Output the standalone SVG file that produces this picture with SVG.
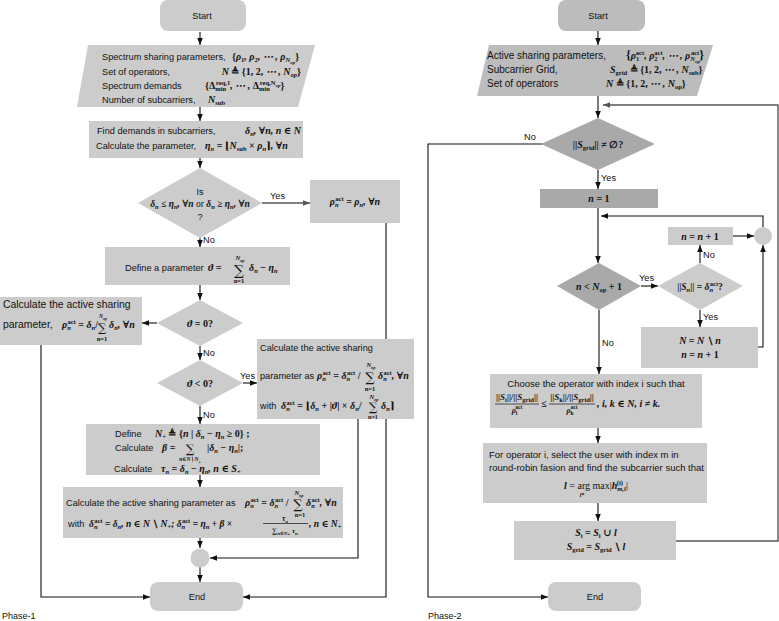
<svg xmlns="http://www.w3.org/2000/svg" width="779" height="621" viewBox="0 0 779 621">
<defs>
<marker id="ah" viewBox="0 0 10 10" refX="10" refY="5" markerWidth="7" markerHeight="7" markerUnits="userSpaceOnUse" orient="auto"><path d="M0,1 L10,5 L0,9 z" fill="#111"/></marker>
<marker id="ahg" viewBox="0 0 10 10" refX="10" refY="5" markerWidth="7" markerHeight="7" markerUnits="userSpaceOnUse" orient="auto"><path d="M0,1 L10,5 L0,9 z" fill="#555"/></marker>
</defs>
<style>
.t{font-family:"Liberation Sans",Arial,sans-serif;font-size:9.2px;fill:#111}
.c{text-anchor:middle}
.e{text-anchor:end}
.m{font-family:"Liberation Serif","DejaVu Serif",serif;font-style:italic;font-weight:bold;font-size:10px;fill:#111}
.u{font-style:normal}
.b{font-size:6.5px;baseline-shift:-2px}
.bb{font-size:5px;baseline-shift:-3.5px}
.p{font-size:6.5px;baseline-shift:4px}
.sm{font-family:"Liberation Serif","DejaVu Serif",serif;font-style:italic;font-weight:bold;font-size:6.5px;fill:#111;text-anchor:middle}
.S{font-family:"DejaVu Serif",serif;font-size:13px;fill:#111;text-anchor:middle}
.box{fill:#cccccc}
.dk{fill:#a9a9a9}
.md{fill:#bcbcbc}
.ln{fill:none;stroke:#111;stroke-width:1.1;marker-end:url(#ah)}
.lg{fill:none;stroke:#555;stroke-width:1.4;marker-end:url(#ahg)}
</style>

<g id="connectors">
<path class="ln" d="M200,32 V45"/>
<path class="ln" d="M200,107 V121"/>
<path class="ln" d="M200,158 V168"/>
<path class="lg" d="M262,203 H310"/>
<path class="ln" d="M386,223 V597 H243"/>
<path class="ln" d="M200,238 V247"/>
<path class="ln" d="M200,285 V300"/>
<path class="ln" d="M157,323 H142"/>
<path class="ln" d="M41,345 V597 H150"/>
<path class="ln" d="M200,346 V360"/>
<path class="ln" d="M243,383 H257"/>
<path class="ln" d="M358,419 V558 H210"/>
<path class="ln" d="M200,406 V424"/>
<path class="ln" d="M200,475 V487"/>
<path class="ln" d="M200,538 V548"/>
<path class="ln" d="M200,567 V582"/>
<path class="ln" d="M598,31 V45"/>
<path class="ln" d="M598,96 V118"/>
<path class="lg" d="M676,541 H778 V105 H603"/>
<path class="ln" d="M543,144 H428 V597 H548"/>
<path class="ln" d="M598,170 V189"/>
<path class="ln" d="M598,208 V263"/>
<path class="ln" d="M763,227 V216 H601"/>
<path class="ln" d="M733,236 H754"/>
<path class="ln" d="M641,286 H658"/>
<path class="ln" d="M700,263 V245"/>
<path class="ln" d="M700,310 V327"/>
<path class="ln" d="M758,347 H763 V245"/>
<path class="ln" d="M599,310 V374"/>
<path class="ln" d="M598,428 V443"/>
<path class="ln" d="M598,503 V521"/>
<text class="t" x="270" y="199">Yes</text>
<text class="t" x="203" y="243">No</text>
<text class="t" x="203" y="356">No</text>
<text class="t" x="240" y="379">Yes</text>
<text class="t" x="203" y="418">No</text>
<text class="t" x="524" y="140">No</text>
<text class="t" x="601" y="181">Yes</text>
<text class="t" x="639" y="281">Yes</text>
<text class="t" x="703" y="258">No</text>
<text class="t" x="703" y="320">Yes</text>
<text class="t" x="602" y="346">No</text>
</g>

<g id="start1"><rect class="box" x="160" y="0" width="86" height="31" rx="8"/><text class="t c" x="202" y="19">Start</text></g>

<g id="input1">
<polygon class="box" points="88,45 315,45 298,107 77,107"/>
<text class="t" x="102" y="60">Spectrum sharing parameters,</text>
<text class="m" x="232" y="60"><tspan class="u">{</tspan>ρ<tspan class="b u">1</tspan>, ρ<tspan class="b u">2</tspan>, ⋯ , ρ<tspan class="b">N</tspan><tspan class="bb">op</tspan><tspan class="u">}</tspan></text>
<text class="t" x="102" y="75">Set of operators,</text>
<text class="m e" x="301" y="75">N <tspan class="u">≜ {1, 2,</tspan> ⋯ , N<tspan class="b">op</tspan><tspan class="u">}</tspan></text>
<text class="t" x="102" y="89">Spectrum demands</text>
<text class="m" x="205" y="89"><tspan class="u">{Δ</tspan><tspan class="b u">min</tspan><tspan class="p u" dx="-10">req,1</tspan>, ⋯ , <tspan class="u">Δ</tspan><tspan class="b u">min</tspan><tspan class="p u" dx="-10">req,N</tspan><tspan class="bb" style="baseline-shift:2.5px">op</tspan><tspan class="u">}</tspan></text>
<text class="t" x="102" y="103">Number of subcarriers,</text>
<text class="m" x="208" y="103">N<tspan class="b u">sub</tspan></text>
</g>

<g id="demands">
<rect class="box" x="89" y="121" width="214" height="37"/>
<text class="t" x="97" y="134">Find demands in subcarriers,</text>
<text class="m e" x="301" y="134">δ<tspan class="b">n</tspan>, ∀n, n ∈ N</text>
<text class="t" x="96" y="149">Calculate the parameter,</text>
<text class="m" x="205" y="149">η<tspan class="b">n</tspan> <tspan class="u">= ⌊</tspan>N<tspan class="b u">sub</tspan> <tspan class="u">×</tspan> ρ<tspan class="b">n</tspan><tspan class="u">⌉</tspan>, ∀n</text>
</g>

<g id="dec1">
<polygon class="box" points="200,168 262,203 200,238 138,203"/>
<text class="t c" x="200" y="195">Is</text>
<text class="m c" x="200" y="207" style="font-size:9.5px">δ<tspan class="b">n</tspan> <tspan class="u">≤</tspan> η<tspan class="b">n</tspan>, ∀n <tspan class="u" style="font-weight:normal">or</tspan> δ<tspan class="b">n</tspan> <tspan class="u">≥</tspan> η<tspan class="b">n</tspan>, ∀n</text>
<text class="t c" x="200" y="220">?</text>
</g>

<g id="rhoeq">
<rect class="box" x="310" y="180" width="90" height="43"/>
<text class="m c" x="355" y="205">ρ<tspan class="b">n</tspan><tspan class="p u" dx="-3.3">act</tspan> <tspan class="u">=</tspan> ρ<tspan class="b">n</tspan>, ∀n</text>
</g>

<g id="define1">
<rect class="box" x="105" y="247" width="185" height="38"/>
<text class="t" x="125" y="271">Define a parameter</text>
<text class="m" x="208" y="271">ϑ <tspan class="u">=</tspan></text>
<text class="S" x="239" y="275" style="font-size:14px">∑</text>
<text class="sm" x="240" y="260">N<tspan style="font-size:4.5px" baseline-shift="-1.5">op</tspan></text>
<text class="sm" x="239" y="283"><tspan class="u">n=1</tspan></text>
<text class="m" x="249" y="271">δ<tspan class="b">n</tspan> <tspan class="u">−</tspan> η<tspan class="b">n</tspan></text>
</g>

<g id="dec2">
<polygon class="box" points="200,300 243,323 200,346 157,323"/>
<text class="m c" x="200" y="327">ϑ <tspan class="u">= 0?</tspan></text>
</g>

<g id="actleft">
<rect class="box" x="0" y="297" width="142" height="48"/>
<text class="t" x="3" y="307.5" style="font-size:10.4px">Calculate the active sharing</text>
<text class="t" x="3" y="328" style="font-size:10.4px">parameter,</text>
<text class="m" x="62" y="328">ρ<tspan class="b">n</tspan><tspan class="p u" dx="-3.3">act</tspan> <tspan class="u">=</tspan> δ<tspan class="b">n</tspan><tspan class="u">/</tspan></text>
<text class="S" x="102" y="332" style="font-size:11.5px">∑</text>
<text class="sm" x="103" y="318" style="font-size:5.5px">N<tspan style="font-size:4px" baseline-shift="-1.5">op</tspan></text>
<text class="sm" x="102" y="341"><tspan class="u">n=1</tspan></text>
<text class="m" x="109" y="328">δ<tspan class="b">n</tspan>, ∀n</text>
</g>

<g id="dec3">
<polygon class="box" points="200,360 243,383 200,406 157,383"/>
<text class="m c" x="200" y="387">ϑ <tspan class="u">&lt; 0?</tspan></text>
</g>

<g id="actneg">
<rect class="box" x="257" y="339" width="157" height="80"/>
<text class="t" x="260" y="351">Calculate the active sharing</text>
<text class="t" x="260" y="379">parameter as</text>
<text class="m" x="317" y="379">ρ<tspan class="b">n</tspan><tspan class="p u" dx="-3.3">act</tspan> <tspan class="u">=</tspan> δ<tspan class="b">n</tspan><tspan class="p u" dx="-3.3">act</tspan> <tspan class="u">/</tspan></text>
<text class="S" x="370" y="382">∑</text>
<text class="sm" x="371" y="367">N<tspan style="font-size:4.5px" baseline-shift="-1.5">op</tspan></text>
<text class="sm" x="370" y="391"><tspan class="u">n=1</tspan></text>
<text class="m" x="378" y="379">δ<tspan class="b">n</tspan><tspan class="p u" dx="-3.3">act</tspan>, ∀n</text>
<text class="t" x="260" y="409">with</text>
<text class="m" x="281" y="409">δ<tspan class="b">n</tspan><tspan class="p u" dx="-3.3">act</tspan> <tspan class="u">= ⌊</tspan>δ<tspan class="b">n</tspan> <tspan class="u">+ |</tspan>ϑ<tspan class="u">| ×</tspan> δ<tspan class="b">n</tspan><tspan class="u">/</tspan></text>
<text class="S" x="373" y="411" style="font-size:12px">∑</text>
<text class="sm" x="374" y="399">N<tspan style="font-size:4.5px" baseline-shift="-1.5">op</tspan></text>
<text class="sm" x="373" y="418.5" style="font-size:6px"><tspan class="u">n=1</tspan></text>
<text class="m" x="381" y="409">δ<tspan class="b">n</tspan><tspan class="u">⌉</tspan></text>
</g>

<g id="define2">
<rect class="box" x="86" y="424" width="234" height="51"/>
<text class="t" x="115" y="437">Define</text>
<text class="m" x="155" y="437">N<tspan class="b u">+</tspan> <tspan class="u">≜ {</tspan>n <tspan class="u">|</tspan> δ<tspan class="b">n</tspan> <tspan class="u">−</tspan> η<tspan class="b">n</tspan> <tspan class="u">≥ 0} ;</tspan></text>
<text class="t" x="115" y="451">Calculate</text>
<text class="m" x="162" y="451">β <tspan class="u">=</tspan></text>
<text class="S" x="190" y="453" style="font-size:12px">∑</text>
<text class="sm" x="190" y="460.5" style="font-size:5.5px">n∈N∖N<tspan style="font-size:4px" baseline-shift="-1.5">+</tspan></text>
<text class="m" x="207" y="451"><tspan class="u">|</tspan>δ<tspan class="b">n</tspan> <tspan class="u">−</tspan> η<tspan class="b">n</tspan><tspan class="u">|;</tspan></text>
<text class="t" x="114" y="472">Calculate</text>
<text class="m" x="161" y="472">τ<tspan class="b">n</tspan> <tspan class="u">=</tspan> δ<tspan class="b">n</tspan> <tspan class="u">−</tspan> η<tspan class="b">n</tspan>, n ∈ S<tspan class="b u">+</tspan></text>
</g>

<g id="actfinal">
<rect class="box" x="63" y="487" width="280" height="51"/>
<text class="t" x="66" y="506">Calculate the active sharing parameter as</text>
<text class="m" x="245" y="506">ρ<tspan class="b">n</tspan><tspan class="p u" dx="-3.3">act</tspan> <tspan class="u">=</tspan> δ<tspan class="b">n</tspan><tspan class="p u" dx="-3.3">act</tspan> <tspan class="u">/</tspan></text>
<text class="S" x="298" y="509">∑</text>
<text class="sm" x="299" y="495">N<tspan style="font-size:4.5px" baseline-shift="-1.5">op</tspan></text>
<text class="sm" x="300" y="517"><tspan class="u">n=1</tspan></text>
<text class="m" x="306" y="506">δ<tspan class="b">n</tspan><tspan class="p u" dx="-3.3">act</tspan>, ∀n</text>
<text class="t" x="68" y="527">with</text>
<text class="m" x="89" y="527" style="font-size:9.5px">δ<tspan class="b">n</tspan><tspan class="p u" dx="-3.3">act</tspan> <tspan class="u">=</tspan> δ<tspan class="b">n</tspan>, n ∈ N <tspan class="u">∖</tspan> N<tspan class="b u">+</tspan>; δ<tspan class="b">n</tspan><tspan class="p u" dx="-3.3">act</tspan> <tspan class="u">=</tspan> η<tspan class="b">n</tspan> <tspan class="u">+</tspan> β <tspan class="u">×</tspan></text>
<text class="sm" x="285" y="521" style="font-size:7.5px">τ<tspan style="font-size:5px" baseline-shift="-1.5">n</tspan></text>
<line x1="263" y1="523.5" x2="308" y2="523.5" stroke="#111" stroke-width="0.7"/>
<text class="sm" x="285" y="533" style="font-size:7px"><tspan class="u">∑</tspan><tspan style="font-size:5px" baseline-shift="-1.5">n∈N+</tspan> τ<tspan style="font-size:5px" baseline-shift="-1.5">n</tspan></text>
<text class="m" x="309" y="527" style="font-size:9.5px">, n ∈ N<tspan class="b u">+</tspan></text>
</g>

<g id="merge1"><circle class="box" cx="200" cy="558" r="9.5"/></g>

<g id="end1"><rect class="box" x="150" y="582" width="93" height="29" rx="8"/><text class="t c" x="197" y="600">End</text></g>
<text class="t" x="2" y="619" style="font-size:9px">Phase-1</text>

<g id="start2"><rect class="md" x="558" y="0" width="87" height="31" rx="8"/><text class="t c" x="598" y="19">Start</text></g>

<g id="input2">
<polygon class="md" points="489,45 713,45 697,96 477,96"/>
<text class="t" x="487" y="59" style="font-size:10px">Active sharing parameters,</text>
<text class="m" x="626" y="59"><tspan class="u" style="font-size:12px">{</tspan>ρ<tspan class="b u">1</tspan><tspan class="p u" dx="-3.3">act</tspan>, ρ<tspan class="b u">2</tspan><tspan class="p u" dx="-3.3">act</tspan>, ⋯ , ρ<tspan class="b">N</tspan><tspan class="bb">op</tspan><tspan class="p u" dx="-9">act</tspan><tspan class="u" style="font-size:12px">}</tspan></text>
<text class="t" x="487" y="73" style="font-size:10px">Subcarrier Grid,</text>
<text class="m" x="610" y="73">S<tspan class="b u">grid</tspan> <tspan class="u">≜ {1, 2,</tspan> ⋯ , N<tspan class="b u">sub</tspan><tspan class="u">}</tspan></text>
<text class="t" x="487" y="87" style="font-size:10px">Set of operators</text>
<text class="m" x="606" y="87">N <tspan class="u">≜ {1, 2,</tspan> ⋯ , N<tspan class="b u">op</tspan><tspan class="u">}</tspan></text>
</g>

<g id="gridcheck">
<polygon class="dk" points="598,118 655,144 598,170 541,144"/>
<text class="m c" x="598" y="148"><tspan class="u">||</tspan>S<tspan class="b u">grid</tspan><tspan class="u">|| ≠ ∅?</tspan></text>
</g>

<g id="n1"><rect class="dk" x="540" y="189" width="118" height="19"/><text class="m c" x="599" y="202">n <tspan class="u">= 1</tspan></text></g>

<g id="ninc"><rect class="box" x="668" y="227" width="65" height="18"/><text class="m c" x="700" y="240">n <tspan class="u">=</tspan> n <tspan class="u">+ 1</tspan></text></g>

<g id="merge2"><circle class="box" cx="763" cy="236" r="9"/></g>

<g id="ncheck">
<polygon class="dk" points="599,263 641,286 599,310 557,286"/>
<text class="m c" x="599" y="290">n <tspan class="u">&lt;</tspan> N<tspan class="b u">op</tspan> <tspan class="u">+ 1</tspan></text>
</g>

<g id="scheck">
<polygon class="box" points="700,263 743,286 700,310 658,286"/>
<text class="m c" x="700" y="290" style="font-size:9.5px"><tspan class="u">||</tspan>S<tspan class="b">n</tspan><tspan class="u">|| =</tspan> δ<tspan class="b">n</tspan><tspan class="p u" dx="-3.3">act</tspan><tspan class="u">?</tspan></text>
</g>

<g id="remove">
<rect class="box" x="641" y="327" width="117" height="41"/>
<text class="m c" x="700" y="344">N <tspan class="u">=</tspan> N <tspan class="u">∖</tspan> n</text>
<text class="m c" x="700" y="358">n <tspan class="u">=</tspan> n <tspan class="u">+ 1</tspan></text>
</g>

<g id="choose">
<rect class="box" x="490" y="374" width="212" height="54"/>
<text class="t c" x="596" y="387" style="font-size:9.5px">Choose the operator with index i such that</text>
<text class="m c" x="517" y="400" style="font-size:9px"><tspan class="u">||</tspan>S<tspan class="b u">i</tspan><tspan class="u">||/||</tspan>S<tspan class="b u">grid</tspan><tspan class="u">||</tspan></text>
<line x1="495" y1="404" x2="539" y2="404" stroke="#111" stroke-width="0.7"/>
<text class="m c" x="517" y="413" style="font-size:8px">ρ<tspan class="b u" style="font-size:5.5px">i</tspan><tspan class="p u" dx="-2" style="font-size:5.5px">act</tspan></text>
<text class="m c" x="544" y="407"><tspan class="u">≤</tspan></text>
<text class="m c" x="572" y="400" style="font-size:9px"><tspan class="u">||</tspan>S<tspan class="b u">k</tspan><tspan class="u">||/||</tspan>S<tspan class="b u">grid</tspan><tspan class="u">||</tspan></text>
<line x1="549" y1="404" x2="595" y2="404" stroke="#111" stroke-width="0.7"/>
<text class="m c" x="572" y="413" style="font-size:8px">ρ<tspan class="b u" style="font-size:5.5px">k</tspan><tspan class="p u" dx="-3" style="font-size:5.5px">act</tspan></text>
<text class="m" x="597" y="407">, i, k ∈ N, i ≠ k.</text>
</g>

<g id="select">
<rect class="box" x="483" y="443" width="224" height="60"/>
<text class="t" x="489" y="458" style="font-size:9.5px">For operator i, select the user with index m in</text>
<text class="t" x="489" y="471" style="font-size:9.5px">round-robin fasion and find the subcarrier such that</text>
<text class="m c" x="596" y="489">l <tspan class="u" style="font-weight:normal">= arg max|</tspan>h<tspan class="b">m,l</tspan><tspan class="p u" dx="-9">(i)</tspan><tspan class="u" dx="3" style="font-weight:normal">|</tspan></text>
<text class="sm" x="582" y="497" style="font-size:6px">l*</text>
</g>

<g id="assign">
<rect class="box" x="514" y="521" width="162" height="39"/>
<text class="m c" x="596" y="536">S<tspan class="b u">i</tspan> <tspan class="u">=</tspan> S<tspan class="b u">i</tspan> <tspan class="u">∪</tspan> l</text>
<text class="m c" x="596" y="550">S<tspan class="b u">grid</tspan> <tspan class="u">=</tspan> S<tspan class="b u">grid</tspan> <tspan class="u">∖</tspan> l</text>
</g>

<g id="end2"><rect class="box" x="548" y="582" width="93" height="29" rx="8"/><text class="t c" x="595" y="600">End</text></g>
<text class="t" x="428" y="619" style="font-size:9px">Phase-2</text>
</svg>
